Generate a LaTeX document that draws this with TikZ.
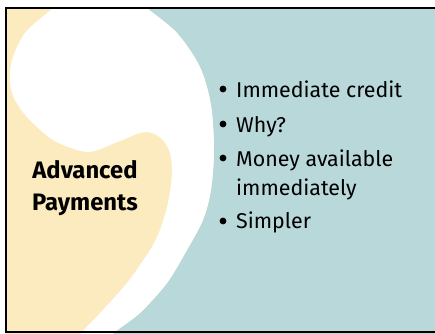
\documentclass[tikz,border=0pt]{standalone}
\usepackage{fontspec}
\setmainfont{Fira Sans}
\usepackage{xcolor}
\usepackage{tikz}
\definecolor{sand}{HTML}{FDEBC0}
\definecolor{sea}{HTML}{B9D8DA}
\tikzset{
  frame/.style={draw=black, line width=2pt},
  title/.style={text=black, font=\bfseries\fontsize{23.8}{32}\selectfont, align=center, inner sep=0pt},
  item/.style={text=black, font=\fontsize{21.4}{24}\selectfont, anchor=base west, inner sep=0pt},
  dot/.style={circle, fill=black, inner sep=2.4pt},
}

\begin{document}
\begin{tikzpicture}[x=1pt,y=-1pt]
  \useasboundingbox (0,0) rectangle (435,333);
  \begin{scope}
    \clip (5,8) rectangle (440,333);
    \fill[sand] (0,0) rectangle (450,345);
    % teal side, right of the comma
    \fill[sea] plot[smooth] coordinates {(135,-4) (147,8) (177,33) (200,67) (211,105)
      (214,150) (211,190) (203,220) (187,250) (167,283) (140,313) (115,332) (102,346)}
      -- (450,346) -- (450,-4) -- cycle;
    % the white comma
    \fill[white] plot[smooth cycle] coordinates {(135,-4) (147,8) (177,33) (200,67) (211,105)
      (214,150) (211,190) (203,220) (187,250) (167,283) (140,313) (115,332) (102,346)
      (88,360) (70,346) (82,332) (100,313) (127,283) (150,250) (160,230) (168,203)
      (172,173) (170,153) (163,140) (152,133) (140,133) (115,143) (87,152) (53,140)
      (27,117) (15,100) (10,83) (12,60) (25,33) (53,8) (68,-4) (100,-20)};
  \end{scope}
  % frame: left, top and bottom sides only
  \draw[frame] (440,7.7) -- (5.7,7.7) -- (5.7,332) -- (440,332);

  \node[title] (head) at (85,188) {Advanced\\Payments};

  \node[item] (i1) at (236,97) {Immediate credit};
  \node[item] (i2) at (236,132) {Why?};
  \node[item] (i3) at (236,166) {Money available};
  \node[item] (i3b) at (236,195) {immediately};
  \node[item] (i4) at (236,228) {Simpler};

  \node[dot] (d1) at (223,89) {};
  \node[dot] (d2) at (223,124) {};
  \node[dot] (d3) at (223,158) {};
  \node[dot] (d4) at (223,221) {};
\end{tikzpicture}
\end{document}
